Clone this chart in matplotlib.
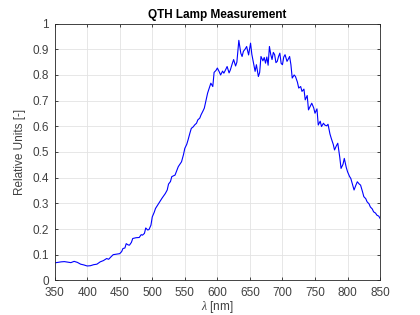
import numpy as np
import matplotlib
matplotlib.use('Agg')
import matplotlib.pyplot as plt

plt.rcParams['font.family'] = ['Liberation Sans', 'DejaVu Sans']
plt.rcParams['mathtext.fontset'] = 'custom'
plt.rcParams['mathtext.it'] = 'Liberation Serif:italic'

# wavelength [nm] and relative intensity
wavelength = [350, 355, 360, 365, 370, 375, 380, 385, 390, 395, 400, 405, 410,
              415, 420, 425, 430, 433, 436, 440, 445, 450, 453, 455, 458, 460,
              463, 465, 468, 470, 475, 480, 483, 485, 488, 490, 493, 495, 498,
              500, 503, 505, 510, 515, 520, 523, 525, 528, 530, 535, 540, 545,
              548, 550, 553, 555, 558, 560, 563, 565, 568, 570, 573, 575, 578,
              580, 583, 585, 588, 590, 593, 595, 598, 600, 603, 605, 608, 610,
              613, 615, 618, 620, 623, 625, 628, 630, 633, 636, 638, 640, 643,
              645, 648, 651, 653, 655, 658, 660, 663, 665, 667, 670, 672, 674,
              676, 678, 680, 682, 684, 686, 688, 690, 692, 694, 696, 698, 700,
              702, 704, 707, 709, 711, 713, 715, 718, 720, 723, 725, 728, 730,
              733, 735, 738, 740, 743, 745, 748, 750, 753, 755, 758, 760, 763,
              765, 768, 770, 773, 775, 778, 780, 783, 785, 788, 790, 793, 795,
              798, 800, 803, 805, 808, 810, 813, 815, 818, 820, 823, 825, 828,
              830, 833, 835, 838, 840, 843, 845, 848, 850]
intensity = [0.068, 0.070, 0.072, 0.073, 0.071, 0.069, 0.074, 0.070, 0.063,
             0.060, 0.056, 0.057, 0.061, 0.063, 0.072, 0.077, 0.085, 0.082,
             0.090, 0.100, 0.102, 0.104, 0.112, 0.124, 0.126, 0.143, 0.138,
             0.137, 0.148, 0.163, 0.166, 0.167, 0.178, 0.176, 0.183, 0.204,
             0.196, 0.198, 0.215, 0.247, 0.265, 0.280, 0.300, 0.320, 0.338,
             0.352, 0.375, 0.385, 0.404, 0.410, 0.443, 0.462, 0.490, 0.514,
             0.530, 0.547, 0.575, 0.592, 0.598, 0.605, 0.612, 0.625, 0.632,
             0.645, 0.660, 0.671, 0.705, 0.729, 0.752, 0.768, 0.755, 0.810,
             0.818, 0.827, 0.812, 0.800, 0.815, 0.807, 0.822, 0.833, 0.808,
             0.820, 0.845, 0.860, 0.835, 0.850, 0.935, 0.885, 0.872, 0.892,
             0.902, 0.911, 0.878, 0.924, 0.880, 0.853, 0.814, 0.840, 0.794,
             0.810, 0.872, 0.855, 0.868, 0.846, 0.870, 0.838, 0.911, 0.880,
             0.860, 0.888, 0.879, 0.848, 0.853, 0.872, 0.885, 0.845, 0.840,
             0.870, 0.879, 0.853, 0.862, 0.872, 0.840, 0.788, 0.800, 0.794,
             0.772, 0.749, 0.755, 0.736, 0.745, 0.703, 0.720, 0.664, 0.680,
             0.690, 0.672, 0.651, 0.668, 0.605, 0.620, 0.599, 0.612, 0.605,
             0.602, 0.608, 0.570, 0.553, 0.530, 0.508, 0.525, 0.534, 0.480,
             0.436, 0.452, 0.475, 0.440, 0.423, 0.405, 0.397, 0.370, 0.352,
             0.372, 0.384, 0.375, 0.371, 0.345, 0.326, 0.318, 0.306, 0.298,
             0.286, 0.278, 0.267, 0.262, 0.254, 0.250, 0.241]

fig = plt.figure(figsize=(4.2, 3.15), dpi=100)
ax = fig.add_axes([0.13, 0.11, 0.775, 0.815])

ax.plot(wavelength, intensity, color='#0000ff', lw=0.8)

ax.set_xlim(350, 850)
ax.set_ylim(0, 1)
ax.set_xticks(np.arange(350, 851, 50))
ax.set_yticks(np.arange(0, 1.01, 0.1))
ax.set_yticklabels(['0', '0.1', '0.2', '0.3', '0.4', '0.5', '0.6', '0.7',
                    '0.8', '0.9', '1'])
ax.grid(True, color='#e3e3e3', lw=0.6)
ax.set_axisbelow(True)

grey = '#262626'
for s in ax.spines.values():
    s.set_color(grey)
    s.set_linewidth(0.6)
ax.tick_params(direction='in', length=2.5, width=0.6, colors=grey,
               labelsize=8.5, top=True, right=True, labelcolor='#404040')
ax.tick_params(axis='x', pad=4.5)
ax.tick_params(axis='y', pad=4)

ax.set_title('QTH Lamp Measurement', fontsize=8.5, fontweight='bold', pad=4,
             color='black')
ax.set_xlabel(r'$\lambda$ [nm]', fontsize=8.5, color='#404040', labelpad=0)
ax.set_ylabel('Relative Units [-]', fontsize=8.5, color='#404040', labelpad=5)

fig.savefig('out.png', dpi=100)
